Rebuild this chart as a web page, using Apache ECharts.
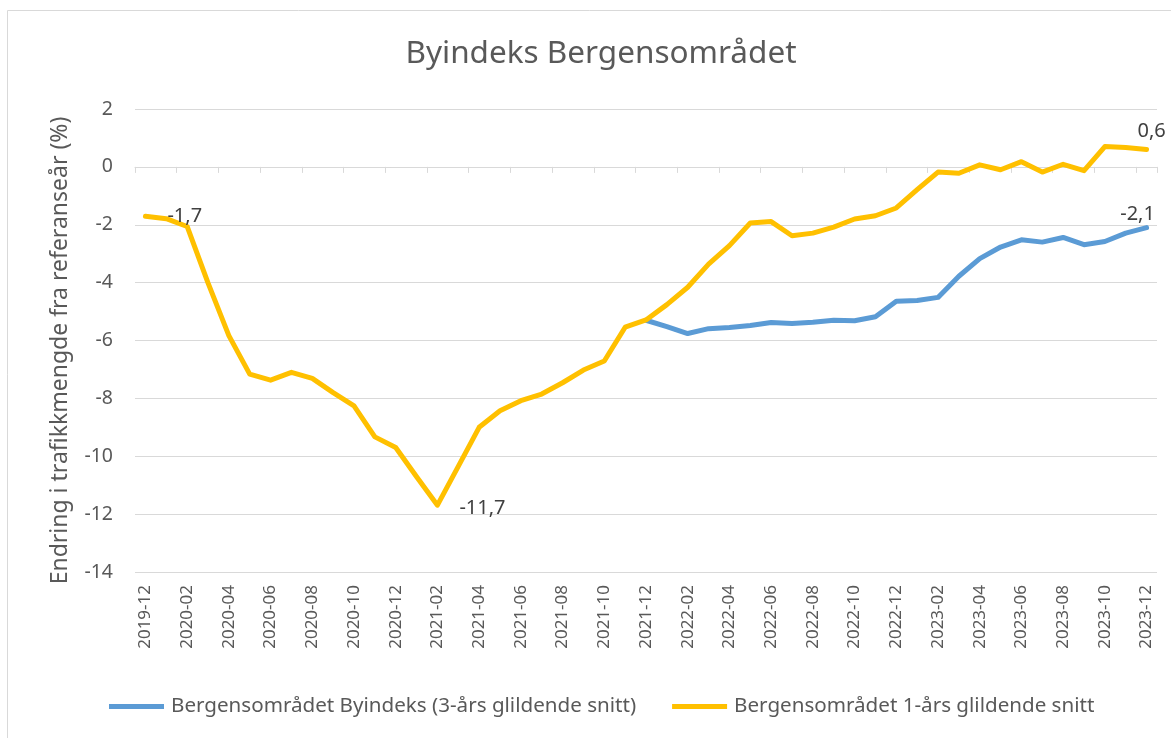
<!DOCTYPE html>
<html>
<head>
<meta charset="utf-8">
<title>Byindeks Bergensområdet</title>
<script src="https://cdn.jsdelivr.net/npm/echarts@6/dist/echarts.min.js"></script>
<style>
  html, body { margin: 0; padding: 0; background: #fff; }
  #chart { width: 1171px; height: 738px; }
</style>
</head>
<body>
<div id="chart"></div>
<script>
// months 2019-12 .. 2023-12
const months = [
  '2019-12',
  '2020-01', '2020-02', '2020-03', '2020-04', '2020-05', '2020-06',
  '2020-07', '2020-08', '2020-09', '2020-10', '2020-11', '2020-12',
  '2021-01', '2021-02', '2021-03', '2021-04', '2021-05', '2021-06',
  '2021-07', '2021-08', '2021-09', '2021-10', '2021-11', '2021-12',
  '2022-01', '2022-02', '2022-03', '2022-04', '2022-05', '2022-06',
  '2022-07', '2022-08', '2022-09', '2022-10', '2022-11', '2022-12',
  '2023-01', '2023-02', '2023-03', '2023-04', '2023-05', '2023-06',
  '2023-07', '2023-08', '2023-09', '2023-10', '2023-11', '2023-12'
]

// Bergensområdet 1-års glidende snitt
const oneYear = [
  -1.71, -1.79, -2.06, -4.01, -5.83, -7.16, -7.37, -7.10, -7.31, -7.80,
  -8.26, -9.33, -9.70, -10.71, -11.69, -10.35, -9.00, -8.43, -8.08, -7.85,
  -7.46, -7.02, -6.71, -5.54, -5.29, -4.76, -4.16, -3.36, -2.72, -1.94,
  -1.89, -2.38, -2.29, -2.08, -1.80, -1.69, -1.42, -0.79, -0.18, -0.22,
  0.07, -0.10, 0.18, -0.18, 0.09, -0.13, 0.70, 0.67, 0.60
]

// Bergensområdet Byindeks (3-års glidende snitt), starts 2021-12
const threeYear = [
  null, null, null, null, null, null, null, null, null, null,
  null, null, null, null, null, null, null, null, null, null,
  null, null, null, null, -5.30, -5.52, -5.76, -5.59, -5.55, -5.48,
  -5.38, -5.41, -5.37, -5.30, -5.32, -5.18, -4.64, -4.62, -4.51, -3.78,
  -3.17, -2.77, -2.52, -2.60, -2.44, -2.69, -2.58, -2.29, -2.10
]

const yTicks = { min: -14, max: 2, step: 2 }

const seriesNames = [
  'Bergensområdet Byindeks (3-års glildende snitt)',
  'Bergensområdet 1-års glildende snitt'
]

const FONT = '"Noto Sans", sans-serif'
const fmt = v => v.toFixed(1).replace('.', ',')

// data labels on a few points only
function withLabels (values, labels) {
  return values.map((v, i) => {
    if (labels[i]) {
      return { value: v, label: Object.assign({ show: true }, labels[i]) }
    }
    return v
  })
}

const chart = echarts.init(document.getElementById('chart'))

const labelStyle = {
  show: false,
  formatter: p => fmt(p.value),
  color: '#404040',
  fontSize: 20,
  fontFamily: FONT
}

const option = {
  animation: false,
  textStyle: { fontFamily: FONT },
  title: {
    text: 'Byindeks Bergensområdet',
    left: 596,
    textAlign: 'center',
    top: 33,
    textStyle: {
      color: '#595959',
      fontSize: 31.5,
      fontWeight: 'normal',
      fontFamily: FONT
    }
  },
  legend: {
    data: seriesNames,
    bottom: 16,
    left: 104,
    icon: 'rect',
    itemWidth: 55,
    itemHeight: 5,
    itemGap: 36,
    textStyle: { color: '#595959', fontSize: 20.6, fontFamily: FONT, padding: [0, 0, 0, 2] }
  },
  grid: {
    left: 135,
    right: 14,
    top: 109,
    bottom: 166,
    containLabel: false
  },
  xAxis: [
    {
      type: 'category',
      data: months,
      boundaryGap: true,
      axisLine: { show: true, onZero: true, lineStyle: { color: '#d9d9d9', width: 1 } },
      axisTick: { show: true, interval: 1, length: 6, lineStyle: { color: '#d9d9d9' } },
      axisLabel: { show: false },
      splitLine: { show: false }
    },
    {
      type: 'category',
      data: months,
      position: 'bottom',
      boundaryGap: true,
      axisLine: { show: false, onZero: false },
      axisTick: { show: false },
      axisLabel: {
        interval: 1,
        rotate: 90,
        margin: 13,
        color: '#595959',
        fontSize: 17,
        fontFamily: FONT
      },
      splitLine: { show: false }
    }
  ],
  yAxis: {
    type: 'value',
    min: yTicks.min,
    max: yTicks.max,
    interval: yTicks.step,
    name: 'Endring i trafikkmengde fra referanseår (%)',
    nameLocation: 'middle',
    nameRotate: 90,
    nameGap: 63,
    nameTextStyle: { color: '#595959', fontSize: 23, fontFamily: FONT, padding: [0, 20, 0, 0] },
    axisLine: { show: false },
    axisTick: { show: false },
    axisLabel: {
      margin: 22,
      color: '#595959',
      fontSize: 19.5,
      fontFamily: FONT
    },
    splitLine: { show: true, lineStyle: { color: '#d9d9d9', width: 1 } }
  },
  series: [
    {
      name: seriesNames[0],
      type: 'line',
      xAxisIndex: 0,
      data: withLabels(threeYear, {
        48: { position: 'top', distance: 3, offset: [-9, 0] }
      }),
      connectNulls: false,
      symbol: 'circle',
      symbolSize: 0,
      showAllSymbol: true,
      lineStyle: { color: '#5B9BD5', width: 5, cap: 'round', join: 'round' },
      itemStyle: { color: '#5B9BD5' },
      label: labelStyle,
      z: 2
    },
    {
      name: seriesNames[1],
      type: 'line',
      xAxisIndex: 0,
      data: withLabels(oneYear, {
        0: { position: 'right', distance: 22 },
        14: { position: 'right', distance: 22, offset: [0, 3] },
        48: { position: 'top', distance: 8, offset: [5, 0] }
      }),
      symbol: 'circle',
      symbolSize: 0,
      showAllSymbol: true,
      lineStyle: { color: '#FFC000', width: 5, cap: 'round', join: 'round' },
      itemStyle: { color: '#FFC000' },
      label: labelStyle,
      z: 3
    }
  ],
  graphic: [
    {
      type: 'rect',
      silent: true,
      shape: { x: 7.5, y: 10.5, width: 1300, height: 900 },
      style: { fill: 'none', stroke: '#d9d9d9', lineWidth: 1 },
      z: -1
    }
  ]
}

chart.setOption(option)
window.addEventListener('resize', () => chart.resize())
</script>
</body>
</html>
